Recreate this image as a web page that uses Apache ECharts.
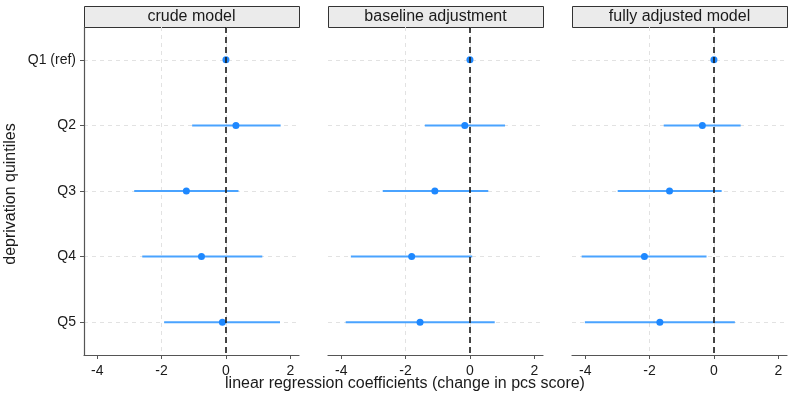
<!DOCTYPE html>
<html>
<head>
<meta charset="utf-8">
<script src="https://cdn.jsdelivr.net/npm/echarts@6/dist/echarts.min.js"></script>
<style>
  html, body { margin: 0; padding: 0; background: #fff; }
  #chart { width: 790px; height: 401px; }
</style>
</head>
<body>
<div id="chart"></div>
<script>
(function () {

    var categories = ['Q1 (ref)', 'Q2', 'Q3', 'Q4', 'Q5'];
    var panels = ['crude model', 'baseline adjustment', 'fully adjusted model'];
    var xTicks = [-4, -2, 0, 2];

    // point estimates and 95% CI per model (Q1 is reference, no CI)
    var estCrude = [0, 0.31, -1.23, -0.76, -0.11];
    var lowCrude = [null, -1.05, -2.85, -2.60, -1.92];
    var highCrude = [null, 1.70, 0.39, 1.13, 1.68];

    var estBase = [0, -0.16, -1.09, -1.81, -1.55];
    var lowBase = [null, -1.40, -2.71, -3.70, -3.86];
    var highBase = [null, 1.09, 0.57, 0.07, 0.77];

    var estFull = [0, -0.36, -1.38, -2.16, -1.68];
    var lowFull = [null, -1.56, -2.99, -4.11, -4.01];
    var highFull = [null, 0.83, 0.24, -0.23, 0.65];

    var estimates = [estCrude, estBase, estFull];
    var lows = [lowCrude, lowBase, lowFull];
    var highs = [highCrude, highBase, highFull];

    var font = '"Liberation Sans", Arial, sans-serif';
    var textColor = '#1a1a1a';
    var gridLefts = [84, 328, 572];
    var gridWidth = 215;
    var gridTop = 27;
    var gridHeight = 328;

    var grid = [], xAxis = [], yAxis = [], series = [], graphic = [];

    panels.forEach(function (name, i) {
        grid.push({
            left: gridLefts[i],
            top: gridTop,
            width: gridWidth,
            height: gridHeight
        });

        xAxis.push({
            type: 'value',
            gridIndex: i,
            min: -4.41,
            max: 2.27,
            splitNumber: 3,
            axisLine: { show: true, onZero: false, lineStyle: { color: '#555', width: 1.2 } },
            axisTick: { show: true, length: 4, customValues: xTicks, lineStyle: { color: '#555' } },
            axisLabel: {
                customValues: xTicks,
                color: textColor,
                fontSize: 14,
                fontFamily: font,
                margin: 9
            },
            splitLine: {
                show: true,
                showMinLine: false,
                showMaxLine: false,
                lineStyle: { color: '#e2e2e2', type: [4, 4], width: 1 }
            }
        });

        yAxis.push({
            type: 'category',
            gridIndex: i,
            data: categories,
            inverse: true,
            axisLine: { show: i === 0, onZero: false, lineStyle: { color: '#555', width: 1.2 } },
            axisTick: { show: i === 0, alignWithLabel: true, length: 4, lineStyle: { color: '#555' } },
            axisLabel: {
                show: i === 0,
                color: textColor,
                fontSize: 14,
                fontFamily: font,
                margin: 8
            },
            splitLine: {
                show: true,
                alignWithLabel: true,
                lineStyle: { color: '#e2e2e2', type: [4, 4], width: 1 }
            }
        });

        var ciData = [];
        categories.forEach(function (c, k) {
            if (lows[i][k] !== null) {
                ciData.push([lows[i][k], k, highs[i][k]]);
            }
        });

        series.push({
            type: 'custom',
            xAxisIndex: i,
            yAxisIndex: i,
            z: 2,
            silent: true,
            data: ciData,
            encode: { x: [0, 2], y: 1 },
            renderItem: function (params, api) {
                var a = api.coord([api.value(0), api.value(1)]);
                var b = api.coord([api.value(2), api.value(1)]);
                return {
                    type: 'line',
                    shape: { x1: a[0], y1: a[1], x2: b[0], y2: b[1] },
                    style: { stroke: '#4aa3ff', lineWidth: 2 }
                };
            },
            markLine: {
                silent: true,
                symbol: 'none',
                label: { show: false },
                lineStyle: { color: '#1a1a1a', type: [6, 4], width: 1.6 },
                data: [{ xAxis: 0 }]
            }
        });

        series.push({
            type: 'scatter',
            xAxisIndex: i,
            yAxisIndex: i,
            z: 4,
            symbolSize: 7,
            silent: true,
            itemStyle: { color: '#1e88ff', opacity: 1 },
            data: estimates[i].map(function (v, k) { return [v, categories[k]]; })
        });

        // facet strip
        graphic.push({
            type: 'rect',
            left: gridLefts[i],
            top: 6,
            shape: { width: gridWidth, height: 21 },
            style: { fill: '#ebebeb', stroke: '#333', lineWidth: 1 }
        });
        graphic.push({
            type: 'text',
            x: gridLefts[i] + gridWidth / 2,
            y: 16.5,
            style: {
                text: name,
                fill: textColor,
                font: '16px ' + font,
                align: 'center',
                verticalAlign: 'middle'
            }
        });
    });

    // axis titles
    graphic.push({
        type: 'text',
        x: 405,
        y: 384,
        style: {
            text: 'linear regression coefficients (change in pcs score)',
            fill: textColor,
            font: '16px ' + font,
            align: 'center',
            verticalAlign: 'middle'
        }
    });
    graphic.push({
        type: 'text',
        x: 11,
        y: 194,
        rotation: Math.PI / 2,
        style: {
            text: 'deprivation quintiles',
            fill: textColor,
            font: '16px ' + font,
            align: 'center',
            verticalAlign: 'middle'
        }
    });

    var myChart = echarts.init(document.getElementById('chart'));
    myChart.setOption({
        backgroundColor: '#fff',
        animation: false,
        grid: grid,
        xAxis: xAxis,
        yAxis: yAxis,
        series: series,
        graphic: graphic
    });

})();
</script>
</body>
</html>
